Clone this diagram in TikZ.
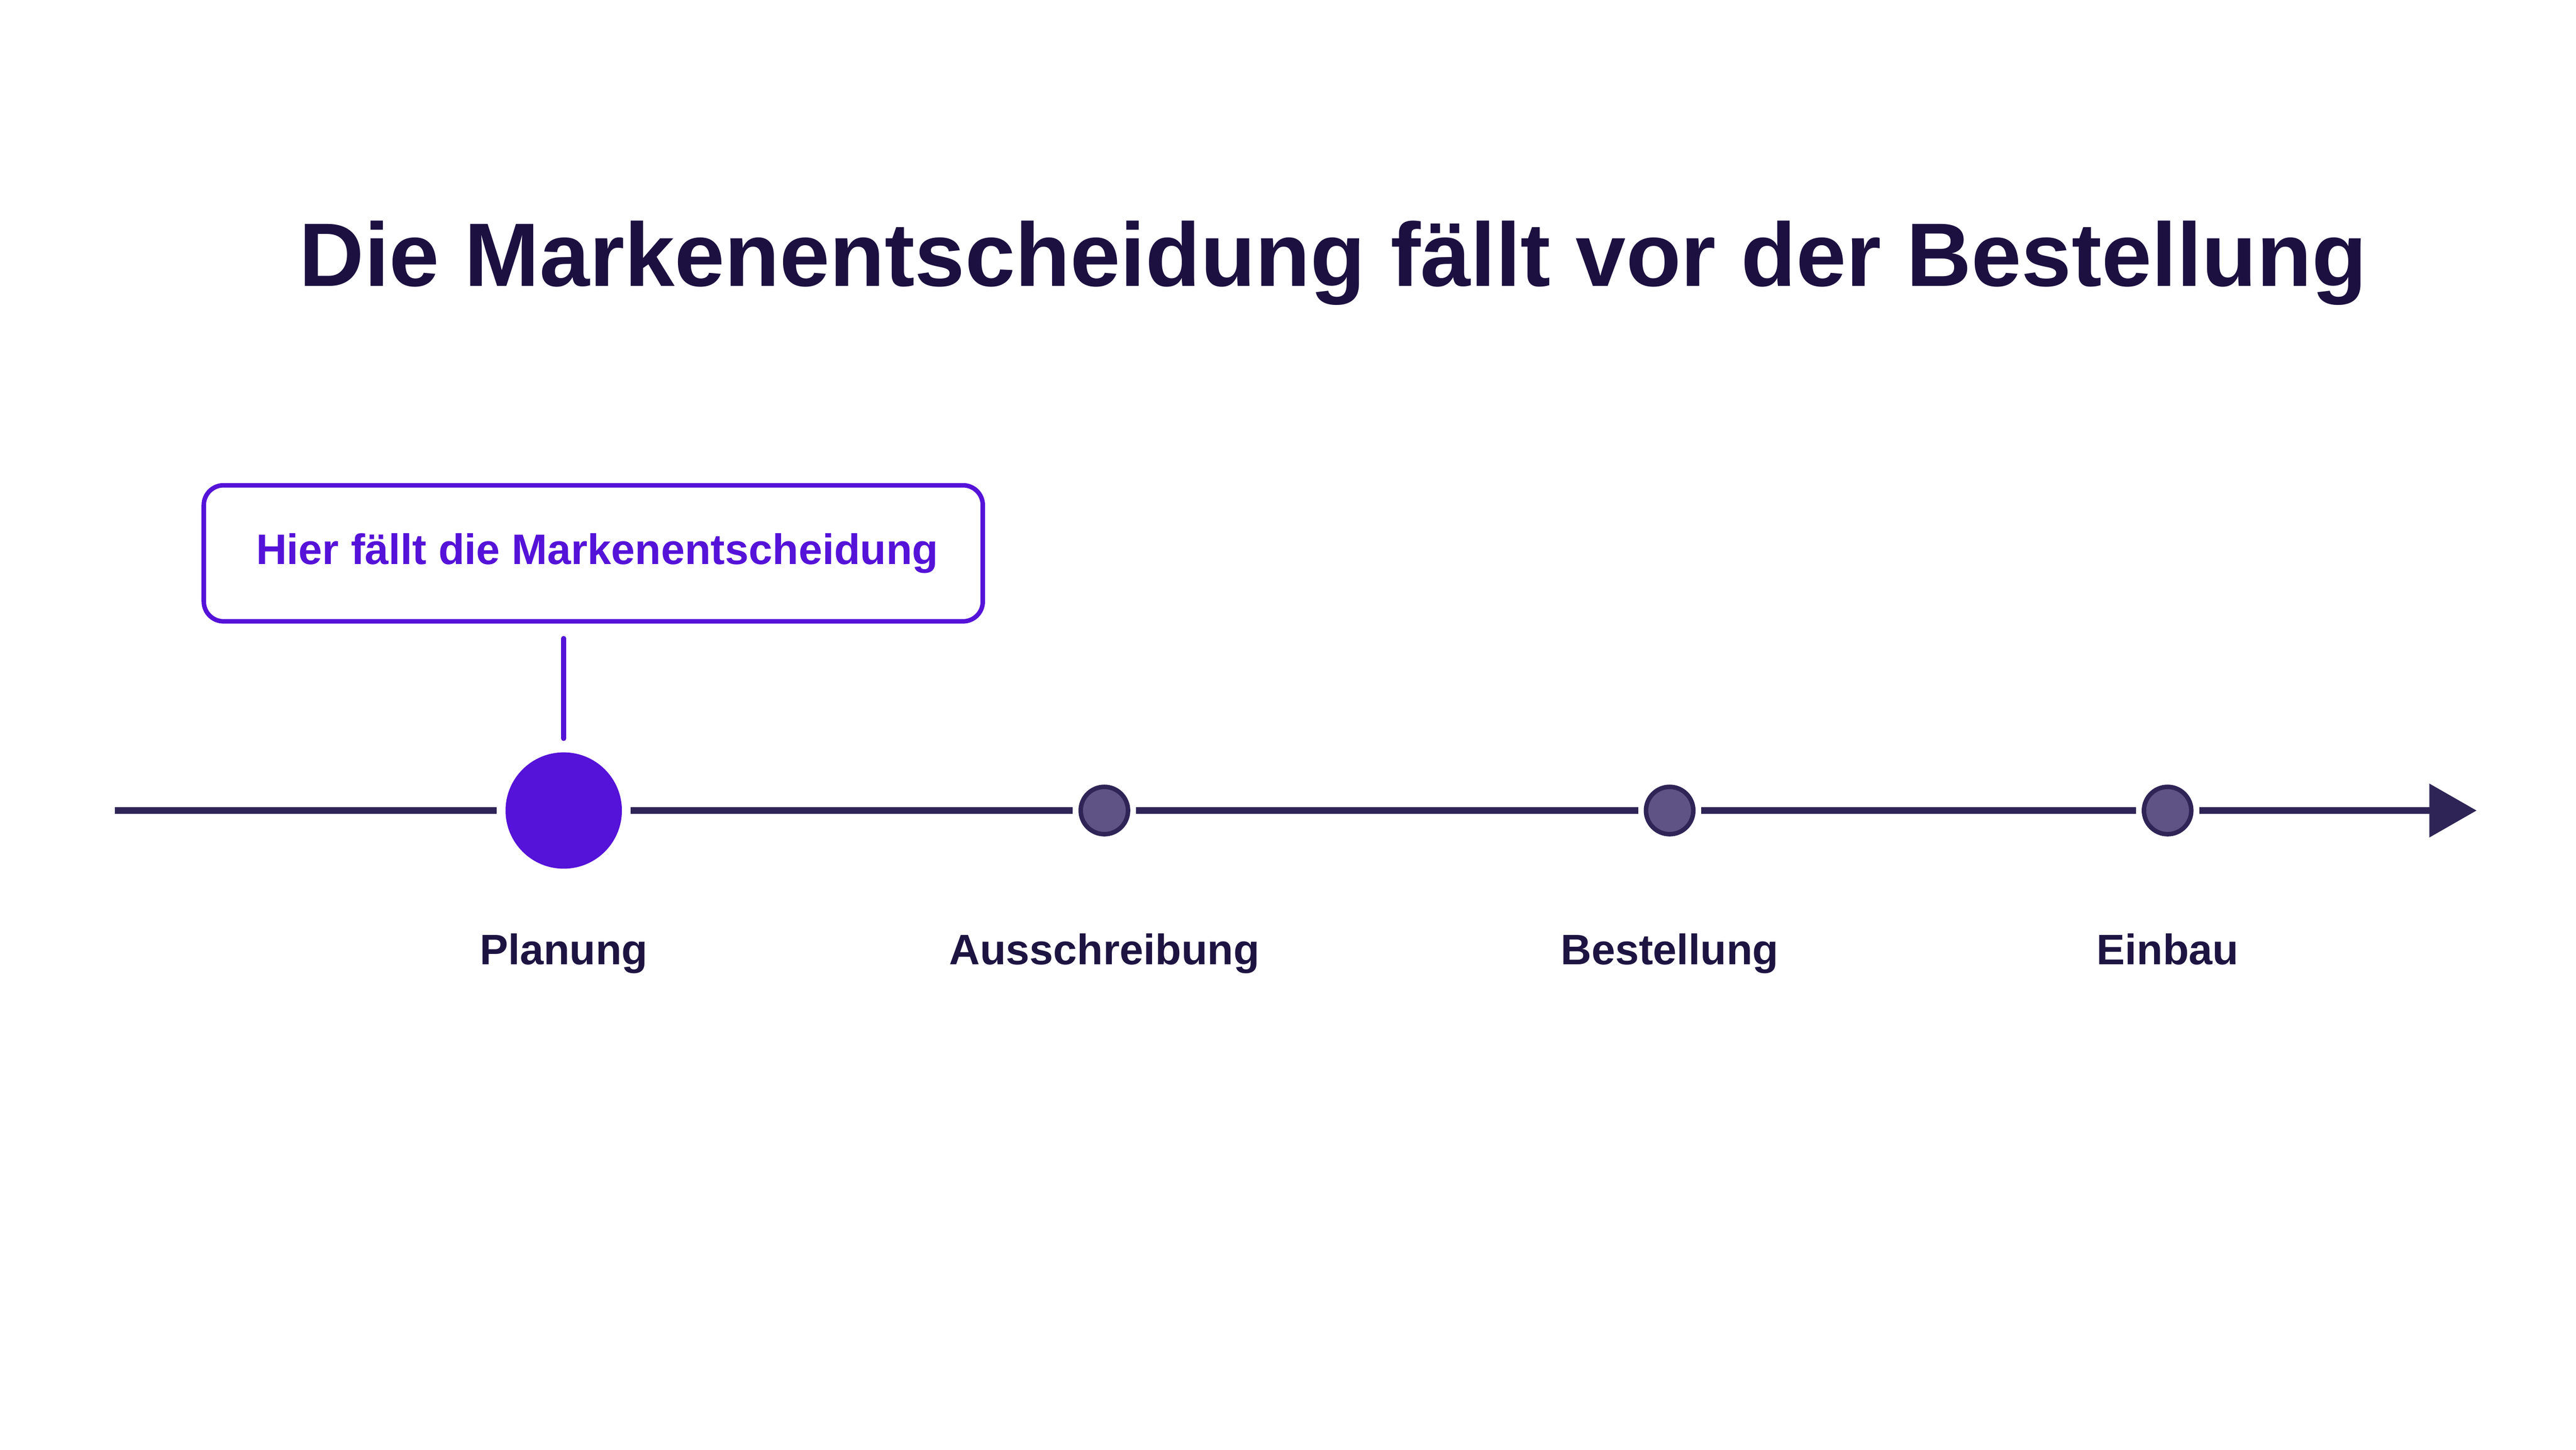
\documentclass[tikz,border=0pt]{standalone}
\usepackage{fontspec}
\setmainfont{Liberation Sans}
\usepackage{xcolor}
\usepackage{tikz}
\usetikzlibrary{arrows.meta,calc,positioning}
\definecolor{titlecol}{HTML}{1B1040}
\definecolor{accent}{HTML}{5512D8}
\definecolor{linecol}{HTML}{2F2456}
\definecolor{dotfill}{HTML}{5E5384}
\definecolor{lblcol}{HTML}{1E1442}
\tikzset{
  title_n/.style = {font=\bfseries\fontsize{26}{30}\selectfont, text=titlecol, anchor=base, inner sep=0pt},
  note_box/.style = {draw=accent, line width=1.3pt, rounded corners=0.2cm, minimum width=7.9cm, minimum height=1.38cm, text=accent, fill=white, font=\bfseries\fontsize{12.3}{14}\selectfont},
  dot_big/.style = {circle, fill=accent, inner sep=0pt, minimum size=1.18cm, outer sep=0.09cm},
  dot_n/.style = {circle, fill=dotfill, draw=linecol, line width=1.3pt, inner sep=0pt, minimum size=0.48cm, outer sep=0.08cm},
  phase_lbl/.style = {font=\bfseries\fontsize{12.3}{14}\selectfont, text=lblcol, inner sep=0pt},
  tl_line/.style = {draw=linecol, line width=1.9pt},
  callout/.style = {draw=accent, line width=1.4pt, line cap=round}
}

\begin{document}
\begin{tikzpicture}
	\useasboundingbox[fill=white] (0,0) rectangle (26.125,14.705);
	\node[title_n] (title) at (13.52,11.8) {Die Markenentscheidung fällt vor der Bestellung};
	\node[note_box] (note) at (6.017,9.092) {\hspace{0.08cm}Hier fällt die Markenentscheidung};
	% timeline
	\coordinate (t_start) at (1.167,6.483);
	\coordinate (t_end) at (25.117,6.483);
	\node[dot_big] (plan) at (5.717,6.483) {};
	\node[dot_n] (aus) at (11.2,6.483) {};
	\node[dot_n] (best) at (16.933,6.483) {};
	\node[dot_n] (einbau) at (21.983,6.483) {};
	\draw[tl_line, -{Triangle[length=0.48cm, width=0.53cm]}] (t_start) -- (plan) -- (aus) -- (best) -- (einbau) -- (t_end);
	\draw[callout, shorten <=0.15cm, shorten >=0.05cm] (plan |- note.south) -- (plan);
	% labels
	\node[phase_lbl, below=1.56cm of plan.center, anchor=base] (plan_l) {Planung};
	\node[phase_lbl, below=1.56cm of aus.center, anchor=base] (aus_l) {Ausschreibung};
	\node[phase_lbl, below=1.56cm of best.center, anchor=base] (best_l) {Bestellung};
	\node[phase_lbl, below=1.56cm of einbau.center, anchor=base] (einbau_l) {Einbau};
\end{tikzpicture}
\end{document}
